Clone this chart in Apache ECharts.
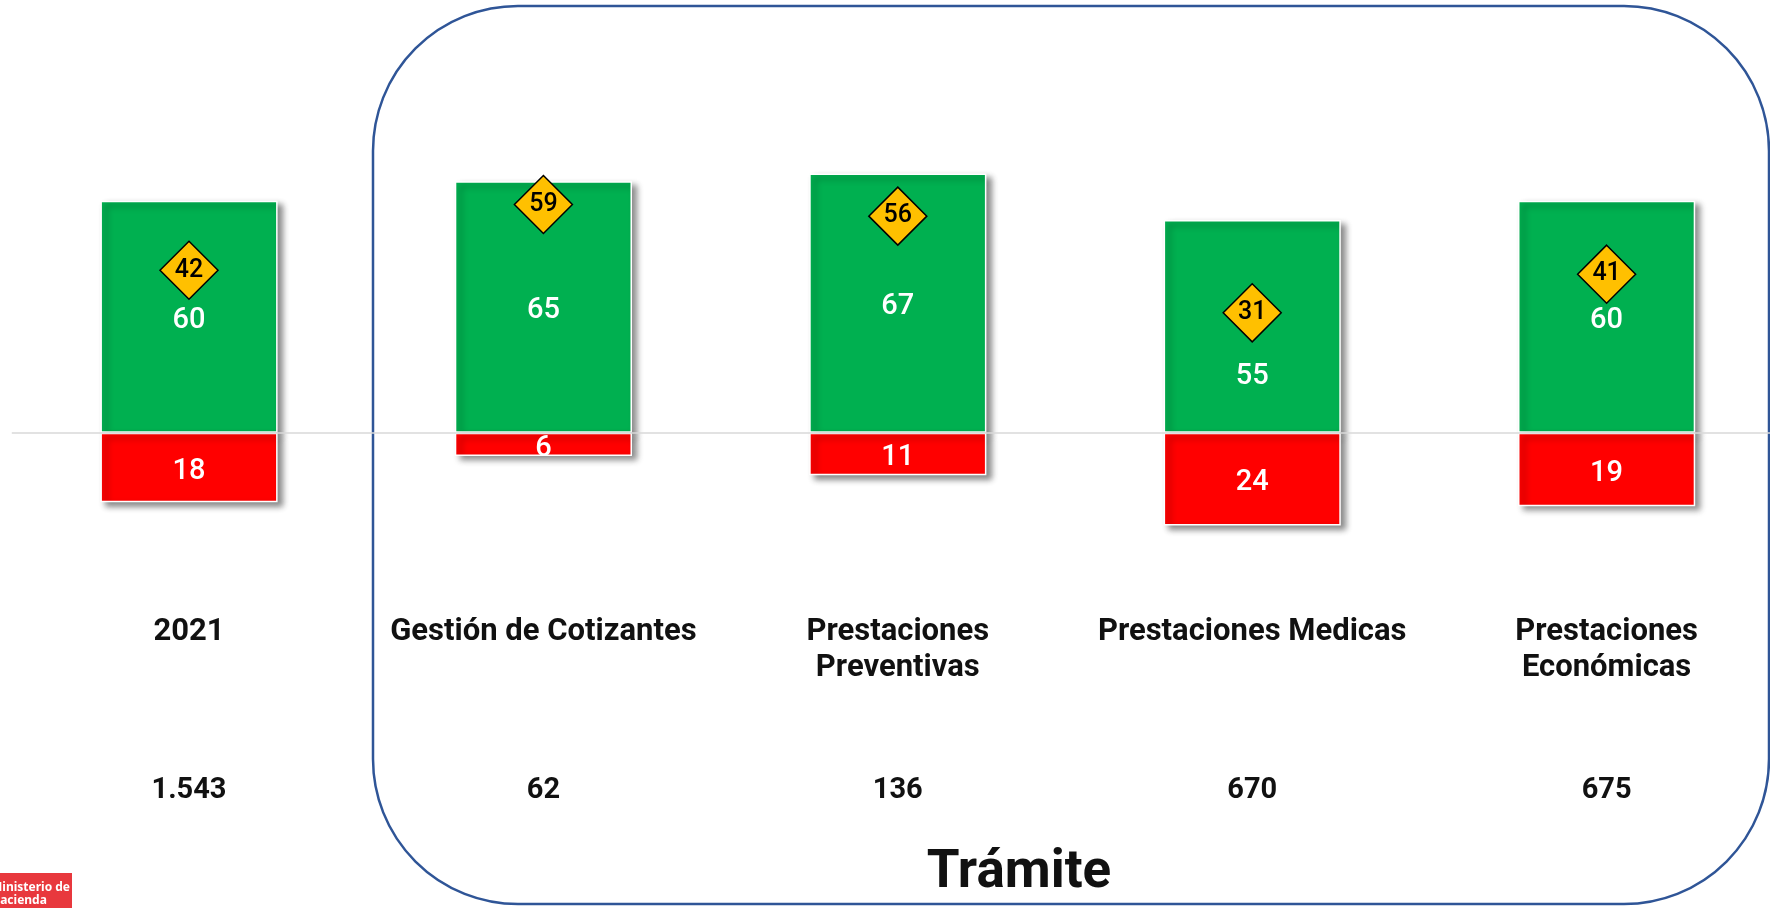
<!DOCTYPE html>
<html>
<head>
<meta charset="utf-8">
<script src="https://cdn.jsdelivr.net/npm/echarts@6/dist/echarts.min.js"></script>
<style>
  html, body { margin: 0; padding: 0; background: #ffffff; }
  #chart { width: 1770px; height: 908px; }
</style>
</head>
<body>
<div id="chart"></div>
<script>
// Categories (trámites) and their values
const categories = ['2021', 'Gestión de Cotizantes', 'Prestaciones\nPreventivas', 'Prestaciones Medicas', 'Prestaciones\nEconómicas'];
const positivos = [60, 65, 67, 55, 60];
const negativos = [18, 6, 11, 24, 19];
const indiceNeto = [42, 59, 56, 31, 41];
const totalTramites = ['1.543', '62', '136', '670', '675'];

const FONT = "Roboto, 'Noto Sans', sans-serif";
const barShadow = {
  shadowColor: 'rgba(0,0,0,0.45)',
  shadowBlur: 6,
  shadowOffsetX: 5,
  shadowOffsetY: 4
};

// Green value labels move below the diamond when the two would overlap
const positivosData = positivos.map((v, i) => {
  const item = { value: v };
  if (Math.abs(v / 2 - indiceNeto[i]) < 8) {
    item.label = { offset: [0, 50] };
  }
  return item;
});

const chart = echarts.init(document.getElementById('chart'), null, { renderer: 'canvas' });

chart.setOption({
  backgroundColor: '#ffffff',
  animation: false,
  title: {
    text: 'Trámite',
    left: 1014,
    top: 842,
    textAlign: 'center',
    textStyle: { fontFamily: FONT, fontSize: 53, fontWeight: 'bold', color: '#111111' }
  },
  grid: {
    left: 11.8, right: -13.8, top: 46, bottom: 309,
    containLabel: false,
    outerBoundsMode: 'none'
  },
  xAxis: [
    {
      type: 'category',
      data: categories,
      position: 'bottom',
      axisLine: { show: false, onZero: false },
      axisTick: { show: false },
      splitLine: { show: false },
      axisLabel: {
        interval: 0,
        margin: 15,
        fontFamily: FONT,
        fontSize: 31,
        fontWeight: 'bold',
        lineHeight: 36,
        color: '#111111'
      }
    },
    {
      type: 'category',
      data: categories,
      position: 'bottom',
      axisLine: { show: false, onZero: false },
      axisTick: { show: false },
      splitLine: { show: false },
      axisLabel: {
        interval: 0,
        margin: 176,
        fontFamily: FONT,
        fontSize: 29,
        fontWeight: 'bold',
        lineHeight: 32,
        color: '#111111',
        formatter: (v, i) => totalTramites[i]
      }
    }
  ],
  yAxis: {
    type: 'value',
    min: -43,
    max: 100,
    show: false,
    splitLine: { show: false }
  },
  series: [
    {
      // zero baseline across the whole plot
      name: 'Base',
      type: 'line',
      data: [],
      silent: true,
      markLine: {
        symbol: 'none',
        silent: true,
        label: { show: false },
        lineStyle: { color: '#D9D9D9', width: 1.5, type: 'solid' },
        data: [{ yAxis: 0 }]
      },
      z: 1
    },
    {
      name: 'Positivo',
      type: 'bar',
      xAxisIndex: 0,
      data: positivosData,
      barWidth: '50%',
      barGap: '-100%',
      itemStyle: Object.assign({ color: '#00B050', borderColor: '#ffffff', borderWidth: 1.5 }, barShadow),
      label: {
        show: true,
        position: 'inside',
        offset: [0, 4],
        color: '#ffffff',
        fontFamily: FONT,
        fontSize: 29,
        fontWeight: 500
      },
      z: 2
    },
    {
      name: 'Negativo',
      type: 'bar',
      xAxisIndex: 0,
      data: negativos.map(v => -v),
      barWidth: '50%',
      barGap: '-100%',
      itemStyle: Object.assign({ color: '#FF0000', borderColor: '#ffffff', borderWidth: 1.5 }, barShadow),
      label: {
        show: true,
        position: 'inside',
        offset: [0, 4],
        color: '#ffffff',
        fontFamily: FONT,
        fontSize: 29,
        fontWeight: 500,
        formatter: p => Math.abs(p.value)
      },
      z: 2
    },
    {
      name: 'Neto',
      type: 'scatter',
      xAxisIndex: 0,
      data: indiceNeto,
      symbol: 'diamond',
      symbolSize: [58, 58],
      itemStyle: { color: '#FFC000', opacity: 1, borderColor: '#000000', borderWidth: 1.5 },
      label: {
        show: true,
        position: 'inside',
        color: '#000000',
        fontFamily: FONT,
        fontSize: 25,
        fontWeight: 500
      },
      z: 5
    }
  ],
  graphic: [
    {
      type: 'rect',
      shape: { x: 373, y: 6, width: 1396, height: 898, r: 145 },
      style: { fill: 'none', stroke: '#2F5597', lineWidth: 2.5 },
      silent: true,
      z: 1
    },
    {
      type: 'rect',
      shape: { x: 0, y: 873, width: 72, height: 35 },
      style: { fill: '#E8383D' },
      silent: true,
      z: 1
    },
    {
      type: 'text',
      x: -9,
      y: 881,
      style: {
        text: 'Ministerio de\nHacienda',
        fill: '#ffffff',
        font: "bold 12px 'Noto Sans', sans-serif",
        lineHeight: 13
      },
      silent: true,
      z: 2
    }
  ]
});
</script>
</body>
</html>
